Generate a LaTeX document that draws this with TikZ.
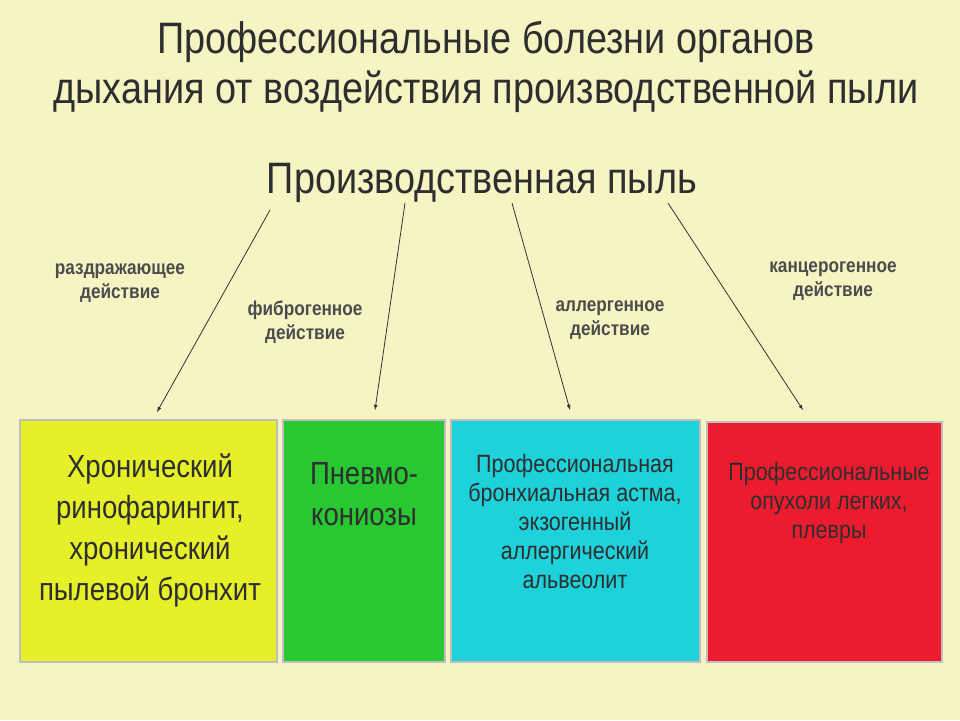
\documentclass[tikz,border=0pt]{standalone}
\usepackage{fontspec}
\setmainfont{Liberation Sans}
\newfontfamily\narrowf[FakeStretch=0.86]{Liberation Sans}
\definecolor{bgc}{RGB}{247,244,196}
\begin{document}
\begin{tikzpicture}[x=1pt,y=-1pt,
  txt/.style={text=black!82,align=center,inner sep=0pt},
  lbl/.style={txt,font=\narrowf\bfseries\fontsize{20}{24}\selectfont,text=black!70},
  box/.style={draw=black!25,line width=1.5pt},
  arr/.style={-latex,black!80,line width=0.8pt}]
\useasboundingbox[fill=bgc] (0,0) rectangle (960,720);
\node[txt,font=\narrowf\fontsize{44}{50}\selectfont] (t) at (486,67) {Профессиональные болезни органов\\дыхания от воздействия производственной пыли};
\node[txt,font=\narrowf\fontsize{44}{40}\selectfont] (h) at (482,183) {Производственная пыль};
\node[lbl] (l1) at (120,283) {раздражающее\\действие};
\node[lbl] (l2) at (305,322) {фиброгенное\\действие};
\node[lbl] (l3) at (610,320) {аллергенное\\действие};
\node[lbl] (l4) at (833,281) {канцерогенное\\действие};
\fill[fill={rgb,255:red,230;green,240;blue,40}] (20,420) rectangle (277,662);
\fill[fill={rgb,255:red,40;green,200;blue,50}] (283,420) rectangle (445,662);
\fill[fill={rgb,255:red,30;green,210;blue,220}] (451,420) rectangle (700,662);
\fill[fill={rgb,255:red,236;green,28;blue,46}] (707,422) rectangle (942,662);
\draw[box] (20,420) rectangle (277,662) (283,420) rectangle (445,662) (451,420) rectangle (700,662) (707,422) rectangle (942,662);
\node[txt,font=\narrowf\fontsize{32}{41}\selectfont] (b1) at (150,530) {Хронический\\ринофарингит,\\хронический\\пылевой бронхит};
\node[txt,font=\narrowf\fontsize{32}{41}\selectfont] (b2) at (364,494) {Пневмо-\\кониозы};
\node[txt,font=\narrowf\fontsize{25}{29}\selectfont] (b3) at (575,522) {Профессиональная\\бронхиальная астма,\\экзогенный\\аллергический\\альвеолит};
\node[txt,font=\narrowf\fontsize{25}{29}\selectfont] (b4) at (829,503) {Профессиональные\\опухоли легких,\\плевры};
\coordinate (s1) at (270,210); \coordinate (e1) at (157,412);
\coordinate (s2) at (405,203); \coordinate (e2) at (375,410);
\coordinate (s3) at (512,203); \coordinate (e3) at (570,410);
\coordinate (s4) at (668,203); \coordinate (e4) at (803,410);
\draw[arr] (s1) -- (e1);
\draw[arr] (s2) -- (e2);
\draw[arr] (s3) -- (e3);
\draw[arr] (s4) -- (e4);
\end{tikzpicture}
\end{document}
